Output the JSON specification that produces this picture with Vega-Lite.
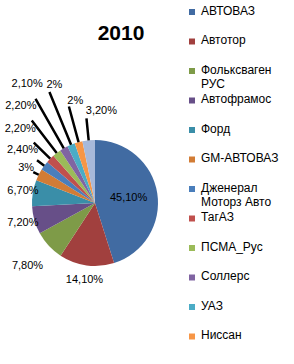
{
  "$schema": "https://vega.github.io/schema/vega-lite/v6.json",
  "autosize": "none",
  "width": 190,
  "height": 322,
  "padding": {"left": 0, "top": 42, "right": 104, "bottom": 0},
  "background": "white",
  "title": {
    "text": "2010",
    "anchor": "middle",
    "frame": "group",
    "dx": 26,
    "dy": 57,
    "offset": 2,
    "baseline": "alphabetic",
    "font": "Liberation Sans",
    "fontSize": 21,
    "fontWeight": "bold",
    "color": "#000000"
  },
  "data": {
    "values": [
      {"brand": "АВТОВАЗ", "value": 45.1, "label": "45,10%", "order": 1},
      {"brand": "Автотор", "value": 14.1, "label": "14,10%", "order": 2},
      {"brand": "Фольксваген РУС", "value": 7.8, "label": "7,80%", "order": 3},
      {"brand": "Автофрамос", "value": 7.2, "label": "7,20%", "order": 4},
      {"brand": "Форд", "value": 6.7, "label": "6,70%", "order": 5},
      {"brand": "GM-АВТОВАЗ", "value": 3, "label": "3%", "order": 6},
      {"brand": "Дженерал Моторз Авто", "value": 2.4, "label": "2,40%", "order": 7},
      {"brand": "ТагАЗ", "value": 2.2, "label": "2,20%", "order": 8},
      {"brand": "ПСМА_Рус", "value": 2.2, "label": "2,20%", "order": 9},
      {"brand": "Соллерс", "value": 2.1, "label": "2,10%", "order": 10},
      {"brand": "УАЗ", "value": 2, "label": "2%", "order": 11},
      {"brand": "Ниссан", "value": 2, "label": "2%", "order": 12},
      {"brand": "Прочие", "value": 3.2, "label": "3,20%", "order": 13}
    ]
  },
  "resolve": {"scale": {"radius": "independent"}},
  "layer": [
    {
      "mark": {"type": "arc", "radius": 63},
      "encoding": {
        "theta": {"field": "value", "type": "quantitative", "stack": true, "scale": {"domain": [0, 100]}},
        "order": {"field": "order", "type": "quantitative"},
        "color": {
          "field": "brand",
          "type": "nominal",
          "scale": {
            "domain": ["АВТОВАЗ", "Автотор", "Фольксваген РУС", "Автофрамос", "Форд", "GM-АВТОВАЗ", "Дженерал Моторз Авто", "ТагАЗ", "ПСМА_Рус", "Соллерс", "УАЗ", "Ниссан", "Прочие"],
            "range": ["#416BA2", "#A1403E", "#7E9B48", "#674F88", "#3A8EA8", "#D27C35", "#4A7EBB", "#C0504D", "#9BBB59", "#8064A2", "#4BACC6", "#F79646", "#A7B9DA"]
          },
          "legend": {
            "title": null,
            "orient": "none",
            "legendX": 186,
            "legendY": -36,
            "values": ["АВТОВАЗ", "Автотор", "Фольксваген РУС", "Автофрамос", "Форд", "GM-АВТОВАЗ", "Дженерал Моторз Авто", "ТагАЗ", "ПСМА_Рус", "Соллерс", "УАЗ", "Ниссан"],
            "symbolType": "square",
            "symbolSize": 36,
            "symbolStrokeWidth": 0,
            "labelFont": "Liberation Sans",
            "labelFontSize": 12,
            "labelColor": "#000000",
            "labelBaseline": "top",
            "labelLineHeight": 16,
            "labelOffset": 3,
            "labelLimit": 200,
            "rowPadding": 2.5,
            "padding": 0,
            "labelExpr": "datum.label == 'Фольксваген РУС' ? ['Фольксваген', 'РУС'] : datum.label == 'Дженерал Моторз Авто' ? ['Дженерал', 'Моторз Авто'] : [datum.label, '']",
            "encode": {"labels": {"update": {"dy": {"value": -6.5}}}}
          }
        }
      }
    },
    {
      "transform": [
        {"stack": "value", "groupby": [], "sort": [{"field": "order"}], "as": ["s0", "s1"]},
        {"fold": ["s0", "s1"], "as": ["edgeName", "edge"]},
        {"aggregate": [{"op": "mean", "field": "edge", "as": "mid"}], "groupby": ["brand", "order"]},
        {"filter": "datum.order >= 6"}
      ],
      "mark": {"type": "arc", "innerRadius": 63, "stroke": "#000000", "strokeWidth": 2.5, "fill": null},
      "encoding": {
        "theta": {"field": "mid", "type": "quantitative", "stack": null, "scale": {"domain": [0, 100]}},
        "theta2": {"field": "mid"},
        "radius": {
          "field": "order",
          "type": "quantitative",
          "scale": {"type": "linear", "zero": false, "nice": false, "domain": [6, 7, 8, 9, 10, 11, 12, 13], "range": [69, 72, 86, 104, 120, 120, 100, 85]}
        }
      }
    },
    {
      "transform": [
        {"stack": "value", "groupby": [], "sort": [{"field": "order"}], "as": ["s0", "s1"]},
        {"fold": ["s0", "s1"], "as": ["edgeName", "edge"]},
        {"aggregate": [{"op": "mean", "field": "edge", "as": "mid"}], "groupby": ["brand", "order", "label"]},
        {"filter": "datum.order <= 10"}
      ],
      "mark": {"type": "text", "font": "Liberation Sans", "fontSize": 11, "color": "#000000", "align": "center", "baseline": "middle"},
      "encoding": {
        "theta": {"field": "mid", "type": "quantitative", "stack": null, "scale": {"domain": [0, 100]}},
        "radius": {
          "field": "order",
          "type": "quantitative",
          "scale": {"type": "linear", "zero": false, "nice": false, "domain": [1, 2, 3, 4, 5, 6, 7, 8, 9, 10], "range": [34, 78, 92, 75, 73, 77, 90, 105, 122, 137]}
        },
        "text": {"field": "label"}
      }
    },
    {
      "transform": [
        {"stack": "value", "groupby": [], "sort": [{"field": "order"}], "as": ["s0", "s1"]},
        {"fold": ["s0", "s1"], "as": ["edgeName", "edge"]},
        {"aggregate": [{"op": "mean", "field": "edge", "as": "mid"}], "groupby": ["brand", "order", "label"]},
        {"filter": "datum.order >= 11"}
      ],
      "mark": {"type": "text", "font": "Liberation Sans", "fontSize": 11, "color": "#000000", "align": "left", "baseline": "middle"},
      "encoding": {
        "theta": {"field": "mid", "type": "quantitative", "stack": null, "scale": {"domain": [0, 100]}},
        "radius": {
          "field": "order",
          "type": "quantitative",
          "scale": {"type": "linear", "zero": false, "nice": false, "domain": [11, 12, 13], "range": [128, 106, 92]}
        },
        "text": {"field": "label"}
      }
    }
  ],
  "config": {"view": {"stroke": null}}
}
